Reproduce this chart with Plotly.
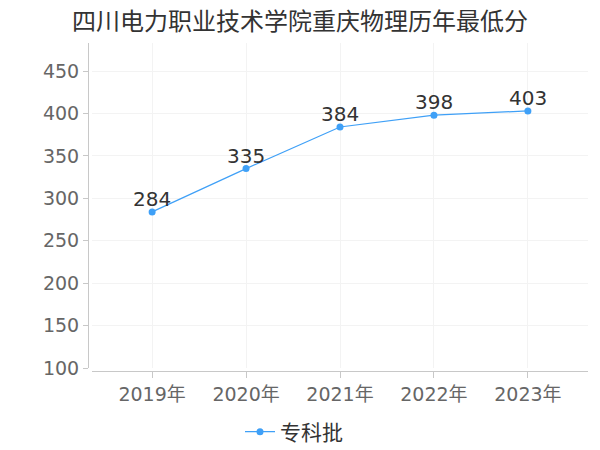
import plotly.graph_objects as go

years = ["2019年", "2020年", "2021年", "2022年", "2023年"]
scores = [284, 335, 384, 398, 403]
series_name = "专科批"
title = "四川电力职业技术学院重庆物理历年最低分"
yticks = [100, 150, 200, 250, 300, 350, 400, 450]

font_family = "DejaVu Sans, Noto Sans CJK SC, sans-serif"
cjk = "Noto Sans CJK SC, sans-serif"

fig = go.Figure()
fig.add_trace(go.Scatter(
    x=years, y=scores, mode="lines+markers", name=series_name,
    line=dict(color="#3fa0f7", width=1.2),
    marker=dict(color="#3fa0f7", size=7),
    cliponaxis=False,
))
for yr, v in zip(years, scores):
    fig.add_annotation(x=yr, y=v, text=str(v), showarrow=False, yanchor="bottom",
                       yshift=-1, font=dict(family=font_family, size=20, color="#333333"))

fig.update_layout(
    width=600, height=450,
    margin=dict(l=88, r=12, t=43, b=79, autoexpand=False),
    paper_bgcolor="white", plot_bgcolor="white",
    hovermode=False,
    font=dict(family=font_family, color="#666666"),
    title=dict(text=title, x=0.5, xanchor="center", xref="container",
               y=0.953, yanchor="middle", yref="container",
               font=dict(family=cjk, size=24, color="#333333")),
    showlegend=True,
    legend=dict(orientation="h", x=0.49, xref="container", xanchor="center",
                y=0.04, yref="container", yanchor="middle", itemwidth=30,
                font=dict(family=cjk, size=21, color="#333333")),
    xaxis=dict(domain=[0.008, 1], range=[-0.64, 4.64], showline=True, linecolor="#c8c8c8",
               linewidth=1, ticks="outside", ticklen=6, tickcolor="#c8c8c8",
               showgrid=True, gridcolor="#f3f3f3", tickfont=dict(size=19, color="#666666"),
               anchor="free", position=0, zeroline=False, automargin=False),
    yaxis=dict(domain=[0.009, 1], range=[100, 483], tickvals=yticks, showline=True,
               linecolor="#c8c8c8", linewidth=1, ticks="outside", ticklen=5,
               tickcolor="#c8c8c8", showgrid=True, gridcolor="#f3f3f3",
               tickfont=dict(size=19, color="#666666"), anchor="free", position=0,
               zeroline=False, automargin=False),
)

fig.write_html("out.html", config={"displayModeBar": False},
               post_script="document.body.style.margin='0';")
